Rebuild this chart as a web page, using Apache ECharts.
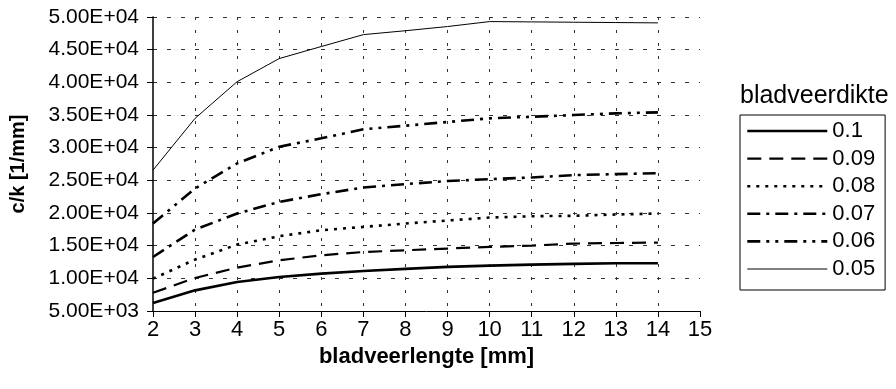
<!DOCTYPE html>
<html>
<head>
<meta charset="utf-8">
<script src="https://cdn.jsdelivr.net/npm/echarts@6/dist/echarts.min.js"></script>
<style>
html,body{margin:0;padding:0;background:#fff;}
#chart{width:896px;height:389px;}
</style>
</head>
<body>
<div id="chart"></div>
<script>
// x values: bladveerlengte [mm]
const lengths = [2, 3, 4, 5, 6, 7, 8, 9, 10, 11, 12, 13, 14];
// series names: bladveerdikte
const seriesNames = ['0.1', '0.09', '0.08', '0.07', '0.06', '0.05'];
// c/k values per series
const v010 = [6210, 8160, 9430, 10200, 10720, 11120, 11450, 11750, 11950, 12100, 12220, 12300, 12320];
const v009 = [7800, 10050, 11640, 12760, 13530, 14030, 14290, 14560, 14800, 15010, 15320, 15410, 15470];
const v008 = [9950, 12870, 15170, 16440, 17360, 17870, 18390, 18850, 19300, 19500, 19570, 19770, 19920];
const v007 = [13270, 17470, 19920, 21700, 22880, 23910, 24420, 24890, 25180, 25440, 25800, 25950, 26100];
const v006 = [18390, 23760, 27590, 30140, 31430, 32810, 33360, 33930, 34490, 34730, 35000, 35250, 35400];
const v005 = [26560, 34490, 40100, 43640, 45480, 47300, 47900, 48540, 49300, 49250, 49200, 49150, 49100];
// tick labels
const yTickLabels = ['5.00E+03', '1.00E+04', '1.50E+04', '2.00E+04', '2.50E+04', '3.00E+04', '3.50E+04', '4.00E+04', '4.50E+04', '5.00E+04'];
const xTickLabels = ['2', '3', '4', '5', '6', '7', '8', '9', '10', '11', '12', '13', '14', '15'];

const allValues = [v010, v009, v008, v007, v006, v005];
const styles = [
  { width: 2.6, type: 'solid' },
  { width: 2.2, type: [14, 8] },
  { width: 2.6, type: [3, 6] },
  { width: 2.6, type: [13, 6, 3, 6] },
  { width: 2.6, type: [13, 6, 3, 6, 3, 6] },
  { width: 1, type: 'solid' }
];
const FONT = '"Liberation Sans", Arial, Helvetica, sans-serif';

const series = seriesNames.map((name, i) => ({
  name: name,
  type: 'line',
  symbol: 'none',
  showSymbol: false,
  smooth: false,
  data: lengths.map((x, j) => [x, allValues[i][j]]),
  lineStyle: { color: '#000', width: styles[i].width, type: styles[i].type },
  itemStyle: { color: '#000' },
  emphasis: { disabled: true },
  animation: false
}));

const chart = echarts.init(document.getElementById('chart'), null, { renderer: 'canvas' });
chart.setOption({
  backgroundColor: '#fff',
  animation: false,
  title: {
    text: 'bladveerdikte',
    left: 740,
    top: 84,
    padding: 0,
    textStyle: { fontFamily: FONT, fontSize: 25, fontWeight: 'normal', color: '#000' }
  },
  legend: {
    orient: 'vertical',
    left: 740,
    top: 115,
    padding: [5, 10, 10, 6],
    itemWidth: 80,
    itemHeight: 14,
    itemGap: 5.6,
    borderColor: '#000',
    borderWidth: 1,
    borderRadius: 0,
    selectedMode: false,
    itemStyle: { opacity: 0 },
    data: seriesNames.map((n, i) => ({
      name: n,
      itemStyle: { opacity: 0 },
      lineStyle: { color: '#000', width: styles[i].width, type: styles[i].type }
    })),
    textStyle: { fontFamily: FONT, fontSize: 22, color: '#000', lineHeight: 22 }
  },
  grid: { left: 152, right: 196, top: 17, bottom: 78, containLabel: false },
  xAxis: {
    type: 'value',
    min: 2,
    max: 15,
    interval: 1,
    name: 'bladveerlengte [mm]',
    nameLocation: 'middle',
    nameGap: 34,
    nameTextStyle: { fontFamily: FONT, fontSize: 22, fontWeight: 'bold', color: '#000' },
    axisLine: { show: true, lineStyle: { color: '#000', width: 1 } },
    axisTick: { show: true, length: 6, lineStyle: { color: '#000' } },
    axisLabel: {
      margin: 8,
      fontFamily: FONT, fontSize: 22, color: '#000',
      formatter: v => xTickLabels[Math.round(v - 2)]
    },
    splitLine: {
      show: true,
      showMinLine: false,
      showMaxLine: false,
      lineStyle: { color: '#333', width: 1, type: [3, 10] }
    }
  },
  yAxis: {
    type: 'value',
    min: 5000,
    max: 50000,
    interval: 5000,
    name: 'c/k [1/mm]',
    nameLocation: 'middle',
    nameGap: 125,
    nameTextStyle: { fontFamily: FONT, fontSize: 20, fontWeight: 'bold', color: '#000' },
    axisLine: { show: true, lineStyle: { color: '#000', width: 1.5 } },
    axisTick: { show: true, length: 6, lineStyle: { color: '#000' } },
    axisLabel: {
      margin: 14,
      fontFamily: FONT, fontSize: 21, color: '#000',
      formatter: v => yTickLabels[Math.round((v - 5000) / 5000)]
    },
    splitLine: {
      show: true,
      showMinLine: false,
      lineStyle: { color: '#333', width: 1, type: [4, 10] }
    }
  },
  series: series
});
</script>
</body>
</html>
